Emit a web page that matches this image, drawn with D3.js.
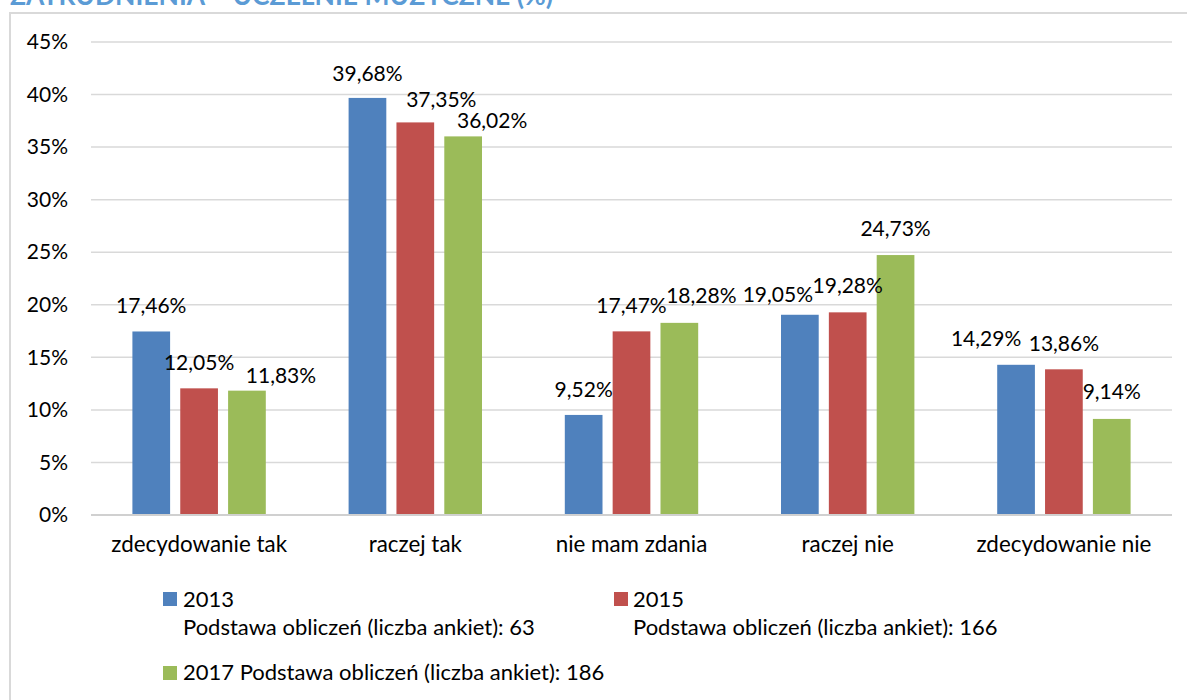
<!DOCTYPE html>
<html>
<head>
<meta charset="utf-8">
<script src="https://cdn.jsdelivr.net/npm/d3@7"></script>
<style>
  html, body { margin: 0; padding: 0; background: #ffffff; }
  svg { display: block; }
  text { font-family: Lato, "Open Sans", sans-serif; fill: #000; }
</style>
</head>
<body>
<svg id="chart" width="1187" height="700"></svg>
<script>
// Survey answers (percent of respondents) per year
const categories = ["zdecydowanie tak", "raczej tak", "nie mam zdania", "raczej nie", "zdecydowanie nie"];
const years = ["2013", "2015", "2017"];
const values2013 = [17.46, 39.68, 9.52, 19.05, 14.29];
const values2015 = [12.05, 37.35, 17.47, 19.28, 13.86];
const values2017 = [11.83, 36.02, 18.28, 24.73, 9.14];
const yTicks = [0, 5, 10, 15, 20, 25, 30, 35, 40, 45];
const legendLabels = [
  ["2013", "Podstawa obliczeń (liczba ankiet): 63"],
  ["2015", "Podstawa obliczeń (liczba ankiet): 166"],
  ["2017 Podstawa obliczeń (liczba ankiet): 186"]
];
const titleText = "ZATRUDNIENIA – UCZELNIE MUZYCZNE (%)";

const colors = ["#4F81BD", "#C0504D", "#9BBB59"];
const series = [values2013, values2015, values2017];

// Hand-placed value labels: [dx from bar centre, baseline offset from bar top], per series
const labelNudge = [
  [[0, -18.5], [0, -17], [0, -18], [-22, -13], [-30, -19]],
  [[0, -18], [26, -15.5], [0, -18], [0, -19], [0, -18.5]],
  [[34, -7.5], [29, -8], [22, -19.5], [0, -19], [0, -19.5]]
];

const svg = d3.select("#chart");
const fmt = v => d3.format(".2f")(v).replace(".", ",") + "%";

// Heading, partly clipped at the top edge
svg.append("text")
  .attr("x", 10).attr("y", 5)
  .attr("textLength", 543).attr("lengthAdjust", "spacingAndGlyphs")
  .style("font-weight", "bold").style("font-size", "26px")
  .style("fill", "#5B9BD5")
  .text(titleText);

// Chart frame
svg.append("path")
  .attr("d", "M10,700 V13 H1187")
  .attr("fill", "none").attr("stroke", "#d9d9d9").attr("stroke-width", 2);

const x0 = d3.scaleBand().domain(categories).range([91, 1172])
  .paddingInner(0.383).paddingOuter(0.1915);
const x1 = d3.scaleBand().domain(years).range([0, x0.bandwidth()])
  .paddingInner(0.212).paddingOuter(0);
const y = d3.scaleLinear().domain([0, 45]).range([515, 42]);

// Gridlines
svg.append("g").selectAll("line").data(yTicks.filter(t => t > 0)).join("line")
  .attr("x1", 91).attr("x2", 1172)
  .attr("y1", d => y(d)).attr("y2", d => y(d))
  .attr("stroke", "#d9d9d9").attr("stroke-width", 1.5);

// Y axis labels
const yAxis = d3.axisLeft(y).tickValues(yTicks).tickSize(0).tickPadding(0)
  .tickFormat(d => d + "%");
const yg = svg.append("g").attr("transform", "translate(68,0)").call(yAxis);
yg.select(".domain").remove();
yg.selectAll("text").style("font-size", "21px").attr("font-family", null).attr("fill", "#000");

// Bars
const groups = svg.append("g").selectAll("g").data(categories).join("g")
  .attr("transform", d => `translate(${x0(d)},0)`);

const cells = (c, i) => years.map((yr, s) => ({ yr, s, i, v: series[s][i] }));

groups.selectAll("rect")
  .data(cells)
  .join("rect")
  .attr("x", d => x1(d.yr))
  .attr("width", x1.bandwidth())
  .attr("y", d => y(d.v))
  .attr("height", d => y(0) - y(d.v))
  .attr("fill", d => colors[d.s]);

// Value labels
groups.selectAll("text.val")
  .data(cells)
  .join("text").attr("class", "val")
  .attr("x", d => x1(d.yr) + x1.bandwidth() / 2 + labelNudge[d.s][d.i][0])
  .attr("y", d => y(d.v) + labelNudge[d.s][d.i][1])
  .attr("text-anchor", "middle")
  .style("font-size", "21px")
  .text(d => fmt(d.v));

// Category axis line
svg.append("line")
  .attr("x1", 91).attr("x2", 1172).attr("y1", y(0)).attr("y2", y(0))
  .attr("stroke", "#d0d0d0").attr("stroke-width", 2);

// Category labels
const xAxis = d3.axisBottom(x0).tickSize(0).tickPadding(0);
const xg = svg.append("g").attr("transform", "translate(0,536)").call(xAxis);
xg.select(".domain").remove();
xg.selectAll("text").style("font-size", "22.4px").attr("font-family", null).attr("fill", "#000");

// Legend
const legendPos = [
  { sx: 163, sy: 592, tx: 183, lines: [607, 635] },
  { sx: 614, sy: 592, tx: 633, lines: [607, 635] },
  { sx: 163, sy: 666, tx: 183, lines: [680] }
];
legendLabels.forEach((lab, i) => {
  const p = legendPos[i];
  const g = svg.append("g");
  g.append("rect").attr("x", p.sx).attr("y", p.sy).attr("width", 14).attr("height", 14)
    .attr("fill", colors[i]);
  lab.forEach((t, j) => {
    g.append("text").attr("x", p.tx).attr("y", p.lines[j])
      .style("font-size", "22px").text(t);
  });
});
</script>
</body>
</html>
